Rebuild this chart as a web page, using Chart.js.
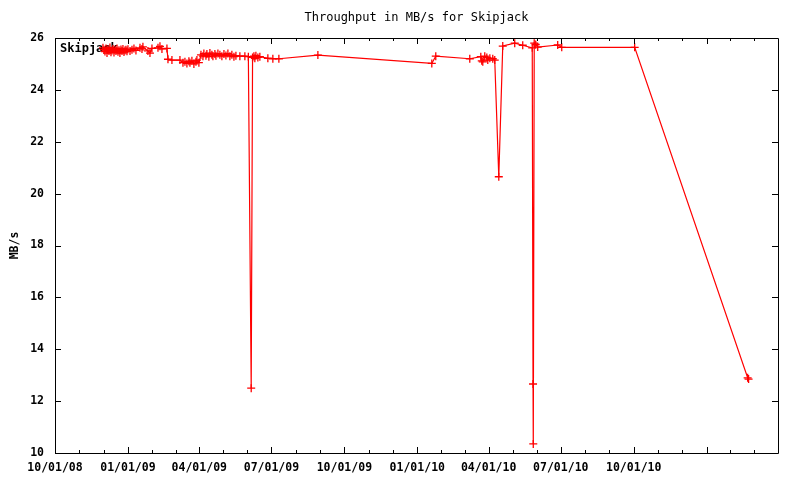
<!DOCTYPE html>
<html>
<head>
<meta charset="utf-8">
<script src="https://cdn.jsdelivr.net/npm/chart.js@4/dist/chart.umd.min.js"></script>
<style>
html, body { margin: 0; padding: 0; background: #fff; }
</style>
</head>
<body>
<canvas id="chartSkipjack" width="800" height="480"></canvas>
<script>
// x = days since 10/01/08
const days = [
  60.5, 61.8, 63.0, 64.3, 65.6, 66.8, 68.1, 69.3, 70.6, 71.9,
  73.1, 74.4, 75.6, 76.9, 78.2, 79.4, 80.7, 81.9, 83.2, 84.5,
  85.7, 87.0, 88.2, 89.5, 90.8, 92.0, 94.6, 97.1, 99.6, 102.1,
  107.2, 109.7, 110.9, 117.2, 119.8, 122.3, 129.9, 132.4, 134.9, 141.2,
  142.5, 147.5, 157.6, 161.4, 163.9, 166.4, 168.9, 170.2, 172.7, 175.2,
  177.8, 179.0, 181.5, 184.1, 186.6, 187.8, 190.4, 191.6, 194.1, 195.4,
  197.9, 199.2, 201.7, 203.0, 205.5, 208.0, 210.5, 213.1, 215.6, 218.1,
  220.6, 223.1, 225.7, 228.2, 233.2, 239.5, 243.9, 247.5, 249.2, 250.9,
  252.1, 253.4, 255.9, 258.4, 268.5, 274.8, 282.4, 331.6, 475.3, 480.3,
  523.2, 537.1, 538.3, 539.6, 542.1, 544.7, 545.9, 548.5, 552.2, 554.7,
  559.8, 564.8, 579.9, 590.0, 602.0, 603.0, 603.3, 604.5, 606.4, 608.9,
  634.1, 639.2, 731.2, 873.7, 874.9
];
const mbs = [
  25.62, 25.55, 25.48, 25.60, 25.42, 25.57, 25.50, 25.63, 25.45, 25.52,
  25.58, 25.44, 25.55, 25.50, 25.60, 25.47, 25.53, 25.42, 25.56, 25.50,
  25.58, 25.46, 25.52, 25.55, 25.49, 25.57, 25.50, 25.55, 25.60, 25.52,
  25.62, 25.58, 25.66, 25.50, 25.42, 25.60, 25.62, 25.68, 25.58, 25.60,
  25.18, 25.15, 25.15, 25.05, 25.08, 25.02, 25.10, 25.05, 25.12, 25.00,
  25.08, 25.15, 25.05, 25.35, 25.30, 25.40, 25.32, 25.38, 25.28, 25.42,
  25.35, 25.30, 25.38, 25.32, 25.40, 25.35, 25.30, 25.38, 25.33, 25.40,
  25.30, 25.35, 25.28, 25.32, 25.30, 25.30, 25.28, 12.50, 25.25, 25.30,
  25.22, 25.32, 25.25, 25.28, 25.22, 25.20, 25.20, 25.34, 25.02, 25.30,
  25.20, 25.28, 25.12, 25.08, 25.30, 25.25, 25.15, 25.22, 25.20, 25.15,
  20.65, 25.69, 25.80, 25.72, 25.62, 12.66, 10.35, 25.80, 25.75, 25.65,
  25.73, 25.64, 25.64, 12.90, 12.85
];

const tickDays = [0, 92, 182, 273, 365, 457, 547, 638, 730, 822, 912];
const tickLabels = ['10/01/08', '01/01/09', '04/01/09', '07/01/09', '10/01/09',
                    '01/01/10', '04/01/10', '07/01/10', '10/01/10'];
const seriesName = 'Skipjack';
const chartTitle = 'Throughput in MB/s for Skipjack';
const yLabel = 'MB/s';

const FONT = "'DejaVu Sans Mono', monospace";

// gnuplot style frame, inward ticks, title, key
const gnuFrame = {
  id: 'gnuFrame',
  beforeDatasetsDraw(chart) {
    // key text sits under the data, like gnuplot
    const ctx = chart.ctx;
    const a = chart.chartArea;
    ctx.save();
    ctx.fillStyle = '#000';
    ctx.font = 'bold 12px ' + FONT;
    ctx.textAlign = 'left';
    ctx.textBaseline = 'middle';
    ctx.fillText(chart.data.datasets[0].label, a.left + 5, a.top + 11);
    ctx.restore();
  },
  afterDraw(chart) {
    const ctx = chart.ctx;
    const a = chart.chartArea;
    const xs = chart.scales.x, ys = chart.scales.y;
    ctx.save();
    ctx.strokeStyle = '#000';
    ctx.lineWidth = 1;
    ctx.beginPath();
    ctx.rect(Math.round(a.left) + 0.5, Math.round(a.top) + 0.5,
             Math.round(a.right - a.left), Math.round(a.bottom - a.top));
    ctx.stroke();

    ctx.beginPath();
    for (let i = 0; i < tickDays.length - 1; i++) {
      for (let k = 0; k < 3; k++) {
        const v = tickDays[i] + (tickDays[i + 1] - tickDays[i]) * k / 3;
        const px = Math.round(xs.getPixelForValue(v)) + 0.5;
        const len = k === 0 ? 6 : 3;
        ctx.moveTo(px, a.bottom); ctx.lineTo(px, a.bottom - len);
        ctx.moveTo(px, a.top); ctx.lineTo(px, a.top + len);
      }
    }
    ys.ticks.forEach(t => {
      const py = Math.round(ys.getPixelForValue(t.value)) + 0.5;
      ctx.moveTo(a.left, py); ctx.lineTo(a.left + 6, py);
      ctx.moveTo(a.right, py); ctx.lineTo(a.right - 6, py);
    });
    ctx.stroke();

    ctx.fillStyle = '#000';
    ctx.font = '12px ' + FONT;
    ctx.textAlign = 'center';
    ctx.textBaseline = 'middle';
    ctx.fillText(chartTitle, (a.left + a.right) / 2, 18);

    ctx.translate(15, (a.top + a.bottom) / 2);
    ctx.rotate(-Math.PI / 2);
    ctx.font = 'bold 11.5px ' + FONT;
    ctx.fillText(yLabel, 0, 0);
    ctx.restore();
  }
};

new Chart(document.getElementById('chartSkipjack'), {
  type: 'line',
  data: {
    datasets: [{
      label: seriesName,
      data: days.map((d, i) => ({ x: d, y: mbs[i] })),
      borderColor: '#ff0000',
      borderWidth: 1.2,
      tension: 0,
      pointStyle: 'cross',
      pointRadius: 4,
      pointBorderWidth: 1.3,
      pointBorderColor: '#ff0000',
      pointBackgroundColor: '#ff0000'
    }]
  },
  options: {
    responsive: false,
    animation: false,
    layout: { padding: { top: 38, right: 22, left: 0, bottom: 0 } },
    plugins: {
      legend: { display: false },
      title: { display: false },
      tooltip: { enabled: false }
    },
    scales: {
      x: {
        type: 'linear',
        min: 0,
        max: 912,
        grid: { display: false, drawTicks: false },
        border: { display: false },
        afterBuildTicks: scale => { scale.ticks = tickDays.map(v => ({ value: v })); },
        afterFit: scale => { scale.height = 27; },
        ticks: {
          autoSkip: false,
          maxRotation: 0,
          padding: 8,
          color: '#000',
          font: { family: FONT, size: 11.5, weight: 'bold' },
          callback: v => tickLabels[tickDays.indexOf(v)] || ''
        }
      },
      y: {
        min: 10,
        max: 26,
        grid: { display: false, drawTicks: false },
        border: { display: false },
        afterFit: scale => { scale.width = 55; },
        ticks: {
          stepSize: 2,
          padding: 11,
          color: '#000',
          font: { family: FONT, size: 11.5, weight: 'bold' }
        }
      }
    }
  },
  plugins: [gnuFrame]
});
</script>
</body>
</html>
